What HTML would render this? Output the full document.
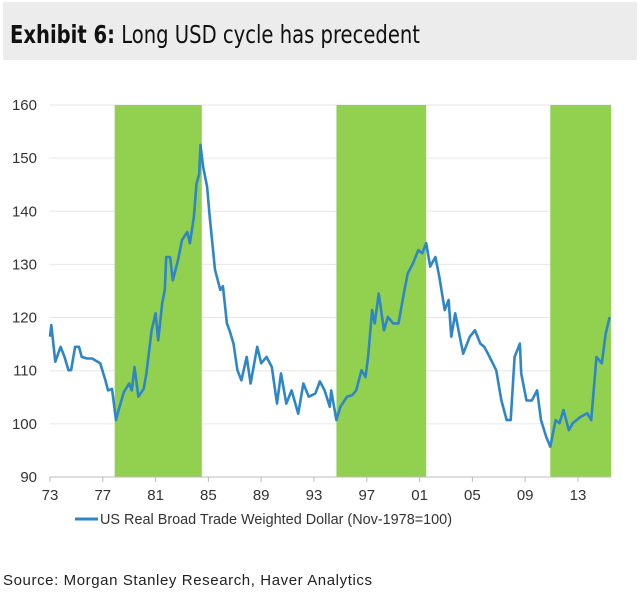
<!DOCTYPE html>
<html><head><meta charset="utf-8">
<style>
body{margin:0;background:#fff;width:640px;height:591px;overflow:hidden;font-family:"Liberation Sans",sans-serif;}
</style></head>
<body>
<svg id="chart" width="640" height="591" xmlns="http://www.w3.org/2000/svg">
<rect x="3" y="2" width="634" height="58" fill="#ececec"/>
<text x="10" y="43" font-size="25" fill="#111" textLength="410" lengthAdjust="spacingAndGlyphs" font-family="DejaVu Sans Condensed, Liberation Sans, sans-serif"><tspan font-weight="bold">Exhibit 6:</tspan> Long USD cycle has precedent</text>
<g id="grid"></g>
<g id="bands"></g>
<g id="series"></g>
<g id="axes"></g>
<line x1="75" y1="519" x2="98" y2="519" stroke="#2e86c6" stroke-width="3"/>
<text x="100" y="524" font-size="15" fill="#333" textLength="352" lengthAdjust="spacingAndGlyphs">US Real Broad Trade Weighted Dollar (Nov-1978=100)</text>
<text x="3" y="585" font-size="15" fill="#222" textLength="369">Source: Morgan Stanley Research, Haver Analytics</text>
</svg>
<script>
const years=[73.0,73.1,73.4,73.8,74.1,74.4,74.6,74.9,75.2,75.4,75.8,76.2,76.4,76.8,77.2,77.4,77.7,78.0,78.2,78.6,79.0,79.2,79.4,79.7,80.1,80.3,80.7,81.0,81.2,81.5,81.7,81.8,82.1,82.3,82.7,83.0,83.4,83.6,83.9,84.1,84.3,84.4,84.6,84.9,85.1,85.5,85.9,86.1,86.4,86.6,86.9,87.2,87.5,87.9,88.2,88.7,89.0,89.4,89.8,90.2,90.5,90.9,91.3,91.8,92.2,92.6,93.1,93.45,93.8,94.2,94.3,94.7,95.0,95.5,95.9,96.2,96.6,96.9,97.1,97.4,97.6,97.9,98.3,98.6,99.0,99.4,99.8,100.1,100.5,100.9,101.2,101.5,101.8,102.2,102.5,102.9,103.2,103.4,103.7,104.1,104.3,104.8,105.2,105.6,105.9,106.3,106.8,107.2,107.6,107.9,108.2,108.6,108.7,109.1,109.5,109.9,110.2,110.6,110.9,111.3,111.6,111.9,112.3,112.6,113.2,113.7,114.0,114.4,114.8,115.1,115.4];
const values=[116.4,118.6,111.7,114.5,112.6,110.1,110.1,114.5,114.5,112.6,112.3,112.3,112,111.4,108.2,106.3,106.6,100.7,102.6,106,107.6,106.3,110.7,105.1,106.6,109.5,117.6,120.8,115.7,122.7,125.2,131.4,131.4,127,130.8,134.6,136.1,134,139,145.2,147,152.5,148.4,144.6,139,129,125.2,125.9,118.9,117.6,115.1,110.1,108.2,112.6,107.6,114.5,111.4,112.6,110.7,103.8,109.5,103.8,106.3,101.9,107.6,105.1,105.7,108,106.3,103.2,106.3,100.7,103.2,105.1,105.4,106.3,110.1,108.8,112.6,121.4,118.9,124.5,117.6,120.1,118.9,118.9,124.5,128.3,130.2,132.7,132.1,134,129.6,131.4,127.6,121.4,123.3,116.4,120.8,115.7,113.2,116.4,117.6,115.1,114.5,112.6,110.1,104.4,100.7,100.7,112.6,115.1,109.5,104.4,104.4,106.3,100.7,97.5,95.7,100.7,100.1,102.6,98.8,100.1,101.3,102,100.7,112.6,111.4,117,120.1];
const bandStarts=[77.9,94.7,110.9];
const bandEnds=[84.5,101.5,115.5];
const yTicks=[90,100,110,120,130,140,150,160];
const xTickYears=[73,77,81,85,89,93,97,101,105,109,113];
const xTickLabels=["73","77","81","85","89","93","97","01","05","09","13"];
const NS="http://www.w3.org/2000/svg";
function X(yr){return 50+(yr-73)*13.2;}
function Y(v){return 105+(160-v)*5.314;}
function mk(tag,attrs,parent){const e=document.createElementNS(NS,tag);for(const k in attrs)e.setAttribute(k,attrs[k]);document.getElementById(parent).appendChild(e);return e;}
bandStarts.forEach((s,i)=>{
  const r=mk('rect',{x:X(s),y:Y(160),width:X(bandEnds[i])-X(s),height:Y(90)-Y(160),fill:'#92d050'},'bands');
  
  
});
yTicks.forEach(t=>{
  if(t>90){const g=mk('line',{x1:X(73),x2:X(115.5),y1:Y(t),y2:Y(t),stroke:'#e6e6e6','stroke-width':1},'grid');
  
  }
  const l=mk('text',{x:37,y:Y(t)+5,'font-size':15,'text-anchor':'end',fill:'#333'},'axes');
  
  
  l.textContent=t;
});
const ax=mk('line',{x1:X(73),x2:X(115.5),y1:Y(90),y2:Y(90),stroke:'#bbb','stroke-width':1},'axes');


xTickYears.forEach((yr,i)=>{
  const tk=mk('line',{x1:X(yr),x2:X(yr),y1:Y(90),y2:Y(90)+5,stroke:'#bbb'},'axes');
  
  
  const l=mk('text',{x:X(yr),y:Y(90)+23,'font-size':15,'text-anchor':'middle',fill:'#333'},'axes');
  
  
  l.textContent=xTickLabels[i];
});
const d=years.map((yr,i)=>(i?'L':'M')+X(yr).toFixed(1)+' '+Y(values[i]).toFixed(1)).join(' ');
const p=mk('path',{d:d,fill:'none',stroke:'#2e86c6','stroke-width':2.6,'stroke-linejoin':'round'},'series');


</script>
</body></html>
